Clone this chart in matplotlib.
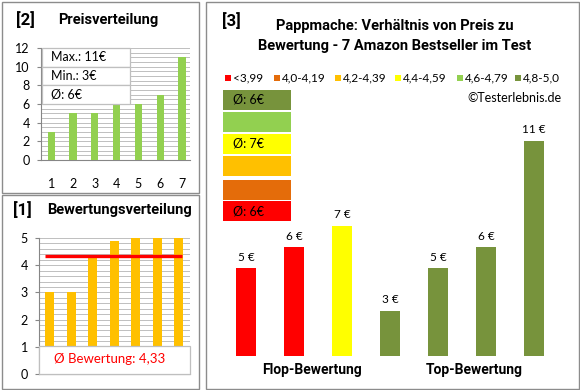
import matplotlib
matplotlib.use('Agg')
import matplotlib.pyplot as plt
import matplotlib.patches as mpatches

plt.rcParams['font.family'] = ['Lato', 'DejaVu Sans']
BOLD = ['Roboto', 'DejaVu Sans']

W, H = 580, 390

# --- data -------------------------------------------------------------
price_idx    = [1, 2, 3, 4, 5, 6, 7]
prices_sorted = [3, 5, 5, 6, 6, 7, 11]
price_box    = ['Max.: 11€', 'Min.: 3€', 'Ø: 6€']

ratings      = [3.0, 3.0, 4.3, 4.9, 5.0, 5.0, 5.0]
rating_avg   = 4.33
rating_label = 'Ø Bewertung: 4,33'

cat_labels = ['<3,99', '4,0-4,19', '4,2-4,39', '4,4-4,59', '4,6-4,79', '4,8-5,0']
cat_colors = ['#FF0000', '#E46C0A', '#FFC000', '#FFFF00', '#92D050', '#77933C']
cat_avg    = ['Ø: 6€', '', '', 'Ø: 7€', '', 'Ø: 6€']   # from red up to dark green

bar_prices = [5, 6, 7, 3, 5, 6, 11]
bar_cat    = [0, 0, 3, 5, 5, 5, 5]
groups     = ['Flop-Bewertung', 'Top-Bewertung']

GRID = '#BFBFBF'
AXC  = '#868686'


def px_axes(x0, y0, x1, y1, **kw):
    return fig.add_axes([x0 / W, 1 - y1 / H, (x1 - x0) / W, (y1 - y0) / H], **kw)


fig = plt.figure(figsize=(W / 100, H / 100), dpi=100)
fig.patch.set_facecolor('white')

bg = px_axes(0, 0, W, H)
bg.set_xlim(0, W); bg.set_ylim(H, 0); bg.axis('off')
for (x0, y0, x1, y1) in [(1.5, 1.5, 199, 193), (1.5, 195, 199, 388.5), (205.5, 1.5, 578.5, 388.5)]:
    bg.add_patch(mpatches.Rectangle((x0, y0), x1 - x0, y1 - y0, fill=False,
                                    edgecolor='#8C8C8C', lw=1.0))

# --- [2] Preisverteilung ----------------------------------------------
ax2 = px_axes(41, 48, 190, 160)
ax2.bar(price_idx, prices_sorted, width=0.33, color='#92D050', zorder=3)
ax2.set_xlim(0.53, 7.37)
ax2.set_ylim(0, 12)
for v in [i * 0.5 for i in range(1, 25)]:
    ax2.axhline(v, color=GRID, lw=0.7, zorder=1)
ax2.set_yticks(range(0, 13, 2))
ax2.set_xticks(price_idx)
ax2.tick_params(axis='y', length=3, color=AXC, labelsize=9, pad=5)
ax2.tick_params(axis='x', length=0, labelsize=9, pad=13)
for s in ['top', 'right']:
    ax2.spines[s].set_visible(False)
for s in ['left', 'bottom']:
    ax2.spines[s].set_color(AXC)

# --- [1] Bewertungsverteilung -----------------------------------------
ax1 = px_axes(39, 238, 190, 374)
ax1.bar(price_idx, ratings, width=0.42, color='#FFC000', zorder=3)
ax1.plot([0.75, 7.15], [rating_avg, rating_avg], color='#FF0000', lw=2.4,
         solid_capstyle='butt', zorder=4)
ax1.set_xlim(0.49, 7.53)
ax1.set_ylim(0, 5)
for v in [i * 0.2 for i in range(1, 26)]:
    ax1.axhline(v, color=GRID, lw=0.7, zorder=1)
ax1.set_yticks(range(0, 6))
ax1.set_xticks([])
ax1.tick_params(axis='y', length=3, color=AXC, labelsize=9, pad=5)
for s in ['top', 'right']:
    ax1.spines[s].set_visible(False)
for s in ['left', 'bottom']:
    ax1.spines[s].set_color(AXC)

# --- [3] Preis vs Bewertung -------------------------------------------
ax3 = px_axes(222, 141, 558, 356)
xs = list(range(len(bar_prices)))
ax3.bar(xs, bar_prices, width=0.4, color=[cat_colors[c] for c in bar_cat], zorder=3)
for x, p in zip(xs, bar_prices):
    ax3.annotate(f'{p} €', (x, p), xytext=(0, 4), textcoords='offset points',
                 ha='center', va='bottom', fontsize=8.5)
ax3.set_xlim(-0.5, 6.5)
ax3.set_ylim(0.88, 11)
ax3.set_xticks([1.375, 4.75], groups)
ax3.tick_params(axis='x', length=0, labelsize=10, pad=5)
for lab in ax3.get_xticklabels():
    lab.set_fontweight('bold')
    lab.set_family(BOLD)
ax3.set_yticks([])
for s in ax3.spines.values():
    s.set_visible(False)
ax3.patch.set_alpha(0)

# --- overlay texts / boxes --------------------------------------------
fg = px_axes(0, 0, W, H)
fg.set_xlim(0, W); fg.set_ylim(H, 0); fg.axis('off'); fg.patch.set_alpha(0)

kb = dict(fontweight='bold', family=BOLD, va='center')
fg.text(16, 20, '[2]', fontsize=12, **kb)
fg.text(58, 20, 'Preisverteilung', fontsize=10.5, **kb)
fg.text(13, 210, '[1]', fontsize=12, **kb)
fg.text(47, 210, 'Bewertungsverteilung', fontsize=10.5, **kb)
fg.text(222, 21, '[3]', fontsize=12, **kb)
fg.text(395, 26, 'Pappmache: Verhältnis von Preis zu', fontsize=10.5, ha='center', **kb)
fg.text(395, 46, 'Bewertung - 7 Amazon Bestseller im Test', fontsize=10.5, ha='center', **kb)

# price info box
bx0, bx1, by0, rh = 42, 130, 48, 18.7
for i, t in enumerate(price_box):
    fg.add_patch(mpatches.Rectangle((bx0, by0 + i * rh), bx1 - bx0, rh, facecolor='white',
                                    edgecolor='#BFBFBF', lw=0.9))
    fg.text(bx0 + 9, by0 + i * rh + rh / 2, t, fontsize=9, va='center')

# rating box
fg.add_patch(mpatches.Rectangle((39, 346), 151, 28, facecolor='white',
                                edgecolor='#BFBFBF', lw=0.9))
fg.text(110, 359, rating_label, fontsize=9.5, color='#FF0000', ha='center', va='center')

# legend row
leg_x = [228, 277, 338, 398, 460, 518]
for x, lab, col in zip(leg_x, cat_labels, cat_colors):
    fg.add_patch(mpatches.Rectangle((x - 3, 75), 6, 6, facecolor=col, edgecolor='none'))
    fg.text(x + 5, 78, lab, fontsize=8.5, va='center')
fg.text(562, 98, '©Testerlebnis.de', fontsize=9, ha='right', va='center')

# colour stack (top = dark green)
row_tops = [201, 180, 156, 134, 112, 90]
for top, col, t in zip(row_tops, cat_colors, cat_avg):
    fg.add_patch(mpatches.Rectangle((223, top), 68, 20, facecolor=col, edgecolor='none'))
    if t:
        fg.text(233, top + 10, t, fontsize=9, va='center')

fig.savefig('out.png', dpi=100)
